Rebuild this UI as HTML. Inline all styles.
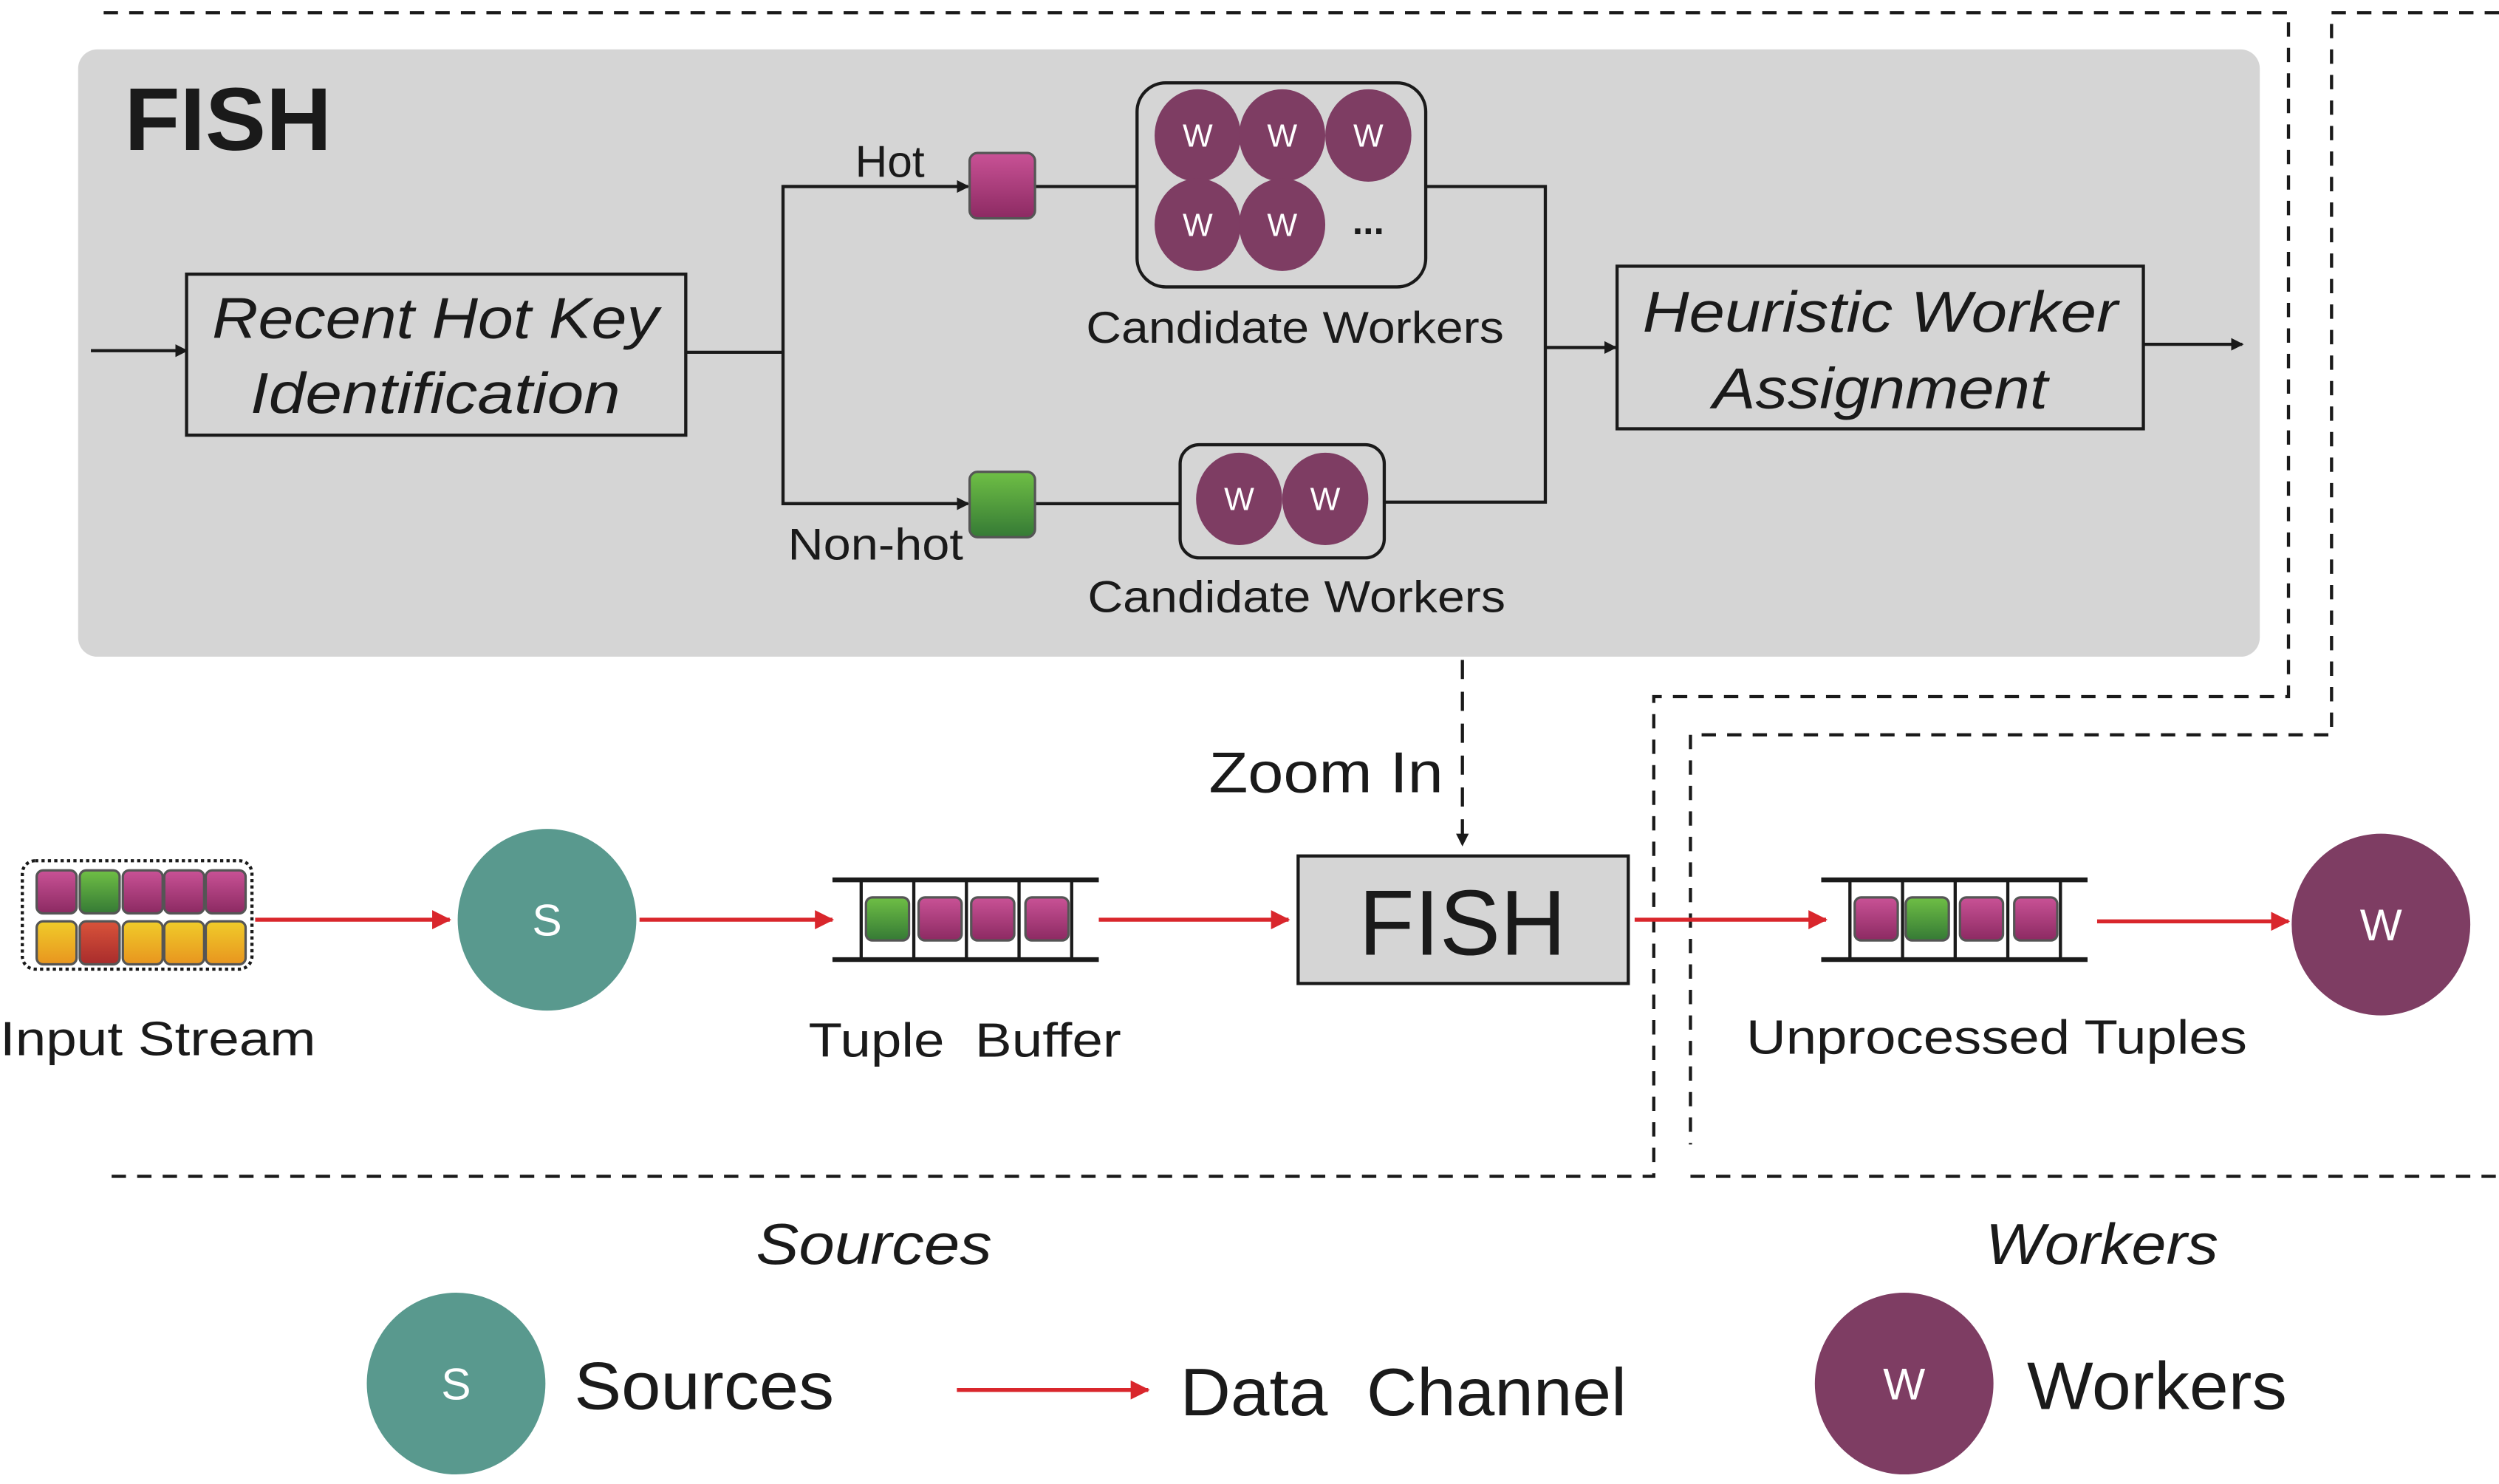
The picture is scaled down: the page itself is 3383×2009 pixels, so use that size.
<!DOCTYPE html>
<html><head><meta charset="utf-8"><style>
html,body{margin:0;padding:0;background:#fff;}
svg{display:block;}
text{font-family:"Liberation Sans",sans-serif;fill:#1a1a1a;}
</style></head><body>
<svg width="3383" height="2009" viewBox="0 0 1567 931" preserveAspectRatio="none" xmlns="http://www.w3.org/2000/svg">
<defs>
<linearGradient id="pk" x1="0" y1="0" x2="0" y2="1"><stop offset="0" stop-color="#c95296"/><stop offset="1" stop-color="#8c2a62"/></linearGradient>
<linearGradient id="gr" x1="0" y1="0" x2="0" y2="1"><stop offset="0" stop-color="#6fbf45"/><stop offset="1" stop-color="#357a35"/></linearGradient>
<linearGradient id="yl" x1="0" y1="0" x2="0" y2="1"><stop offset="0" stop-color="#f0cc2a"/><stop offset="1" stop-color="#e8951f"/></linearGradient>
<linearGradient id="rd" x1="0" y1="0" x2="0" y2="1"><stop offset="0" stop-color="#d9533a"/><stop offset="1" stop-color="#a82c2c"/></linearGradient>
<marker id="ab" markerWidth="8" markerHeight="8" refX="7" refY="4" orient="auto" markerUnits="userSpaceOnUse"><path d="M0,0 L8,4 L0,8 z" fill="#1a1a1a"/></marker>
<marker id="ar" markerWidth="12" markerHeight="12" refX="11" refY="6" orient="auto" markerUnits="userSpaceOnUse"><path d="M0,0 L12,6 L0,12 z" fill="#d9262c"/></marker>
</defs>

<!-- dashed frames -->
<g fill="none" stroke="#1a1a1a" stroke-width="2" stroke-dasharray="9,7">
<polyline points="65,8 1435,8 1435,437 1040,437 1037,437 1037,738 65,738"/>
<polyline points="1567,8 1462,8 1462,461 1060,461 1060,718"/>
<line x1="1060" y1="738" x2="1567" y2="738"/>
</g>

<!-- gray panel -->
<rect x="49" y="31" width="1368" height="381" rx="12" fill="#d5d5d5"/>
<text x="78" y="94" font-size="56" font-weight="bold" textLength="130" lengthAdjust="spacingAndGlyphs">FISH</text>

<g stroke="#1a1a1a" stroke-width="2" fill="none">
<line x1="57" y1="220" x2="117" y2="220" marker-end="url(#ab)"/>
<rect x="117" y="172" width="313" height="101"/>
<polyline points="430,221 491,221"/>
<polyline points="607,117 491,117 491,316 607,316"/>
<line x1="491" y1="117" x2="607" y2="117" marker-end="url(#ab)"/>
<line x1="491" y1="316" x2="607" y2="316" marker-end="url(#ab)"/>
<line x1="649" y1="117" x2="713" y2="117"/>
<rect x="713" y="52" width="181" height="128" rx="18"/>
<polyline points="894,117 969,117 969,315 868,315"/>
<line x1="969" y1="218" x2="1013" y2="218" marker-end="url(#ab)"/>
<line x1="649" y1="316" x2="740" y2="316"/>
<rect x="740" y="279" width="128" height="71" rx="12"/>
<rect x="1014" y="167" width="330" height="102"/>
<line x1="1344" y1="216" x2="1406" y2="216" marker-end="url(#ab)"/>
</g>
<rect x="608" y="96" width="41" height="41" rx="5" fill="url(#pk)" stroke="#555" stroke-width="1.5"/>
<rect x="608" y="296" width="41" height="41" rx="5" fill="url(#gr)" stroke="#555" stroke-width="1.5"/>

<g fill="#7e3d63">
<ellipse cx="751" cy="85" rx="27" ry="29"/><ellipse cx="804" cy="85" rx="27" ry="29"/><ellipse cx="858" cy="85" rx="27" ry="29"/>
<ellipse cx="751" cy="141" rx="27" ry="29"/><ellipse cx="804" cy="141" rx="27" ry="29"/>
<ellipse cx="777" cy="313" rx="27" ry="29"/><ellipse cx="831" cy="313" rx="27" ry="29"/>
</g>
<g font-size="20" text-anchor="middle" style="fill:#fff">
<text x="751" y="92" style="fill:#fff">W</text><text x="804" y="92" style="fill:#fff">W</text><text x="858" y="92" style="fill:#fff">W</text>
<text x="751" y="148" style="fill:#fff">W</text><text x="804" y="148" style="fill:#fff">W</text>
<text x="777" y="320" style="fill:#fff">W</text><text x="831" y="320" style="fill:#fff">W</text>
</g>
<text x="858" y="147" font-size="24" font-weight="bold" text-anchor="middle">...</text>

<text x="273" y="212" font-size="36" font-style="italic" text-anchor="middle" textLength="280" lengthAdjust="spacingAndGlyphs">Recent Hot Key</text>
<text x="273" y="259" font-size="36" font-style="italic" text-anchor="middle" textLength="232" lengthAdjust="spacingAndGlyphs">Identification</text>
<text x="1179" y="208" font-size="36" font-style="italic" text-anchor="middle" textLength="298" lengthAdjust="spacingAndGlyphs">Heuristic Worker</text>
<text x="1179" y="256" font-size="36" font-style="italic" text-anchor="middle" textLength="210" lengthAdjust="spacingAndGlyphs">Assignment</text>
<text x="558" y="111" font-size="28" text-anchor="middle">Hot</text>
<text x="549" y="351" font-size="28" text-anchor="middle" textLength="110" lengthAdjust="spacingAndGlyphs">Non-hot</text>
<text x="812" y="215" font-size="28" text-anchor="middle" textLength="262" lengthAdjust="spacingAndGlyphs">Candidate Workers</text>
<text x="813" y="384" font-size="28" text-anchor="middle" textLength="262" lengthAdjust="spacingAndGlyphs">Candidate Workers</text>

<!-- zoom in -->
<line x1="917" y1="414" x2="917" y2="530" stroke="#1a1a1a" stroke-width="2" stroke-dasharray="12,8" marker-end="url(#ab)"/>
<text x="905" y="497" font-size="36" text-anchor="end" textLength="147" lengthAdjust="spacingAndGlyphs">Zoom In</text>

<!-- input stream -->
<rect x="14" y="540" width="144" height="68" rx="8" fill="none" stroke="#1a1a1a" stroke-width="2" stroke-dasharray="2,2"/>
<g stroke="#555" stroke-width="1.5">
<rect x="23" y="546" width="25" height="27" rx="4" fill="url(#pk)"/><rect x="50" y="546" width="25" height="27" rx="4" fill="url(#gr)"/><rect x="77" y="546" width="25" height="27" rx="4" fill="url(#pk)"/><rect x="103" y="546" width="25" height="27" rx="4" fill="url(#pk)"/><rect x="129" y="546" width="25" height="27" rx="4" fill="url(#pk)"/>
<rect x="23" y="578" width="25" height="27" rx="4" fill="url(#yl)"/><rect x="50" y="578" width="25" height="27" rx="4" fill="url(#rd)"/><rect x="77" y="578" width="25" height="27" rx="4" fill="url(#yl)"/><rect x="103" y="578" width="25" height="27" rx="4" fill="url(#yl)"/><rect x="129" y="578" width="25" height="27" rx="4" fill="url(#yl)"/>
</g>
<text x="0" y="662" font-size="30" textLength="198" lengthAdjust="spacingAndGlyphs">Input Stream</text>

<g stroke="#d9262c" stroke-width="2.5">
<line x1="160" y1="577" x2="282" y2="577" marker-end="url(#ar)"/>
<line x1="401" y1="577" x2="522" y2="577" marker-end="url(#ar)"/>
<line x1="689" y1="577" x2="808" y2="577" marker-end="url(#ar)"/>
<line x1="1025" y1="577" x2="1145" y2="577" marker-end="url(#ar)"/>
<line x1="1315" y1="578" x2="1435" y2="578" marker-end="url(#ar)"/>
<line x1="600" y1="872" x2="720" y2="872" marker-end="url(#ar)"/>
</g>

<ellipse cx="343" cy="577" rx="56" ry="57" fill="#59998e"/>
<text x="343" y="587" font-size="28" text-anchor="middle" style="fill:#fff">S</text>

<!-- tuple buffer -->
<g stroke="#1a1a1a" stroke-width="2">
<line x1="522" y1="552" x2="689" y2="552" stroke-width="3"/><line x1="522" y1="602" x2="689" y2="602" stroke-width="3"/>
<line x1="540" y1="552" x2="540" y2="602"/><line x1="573" y1="552" x2="573" y2="602"/><line x1="606" y1="552" x2="606" y2="602"/><line x1="639" y1="552" x2="639" y2="602"/><line x1="672" y1="552" x2="672" y2="602"/>
<line x1="1142" y1="552" x2="1309" y2="552" stroke-width="3"/><line x1="1142" y1="602" x2="1309" y2="602" stroke-width="3"/>
<line x1="1160" y1="552" x2="1160" y2="602"/><line x1="1193" y1="552" x2="1193" y2="602"/><line x1="1226" y1="552" x2="1226" y2="602"/><line x1="1259" y1="552" x2="1259" y2="602"/><line x1="1292" y1="552" x2="1292" y2="602"/>
</g>
<g stroke="#555" stroke-width="1.5">
<rect x="543" y="563" width="27" height="27" rx="4" fill="url(#gr)"/><rect x="576" y="563" width="27" height="27" rx="4" fill="url(#pk)"/><rect x="609" y="563" width="27" height="27" rx="4" fill="url(#pk)"/><rect x="643" y="563" width="27" height="27" rx="4" fill="url(#pk)"/>
<rect x="1163" y="563" width="27" height="27" rx="4" fill="url(#pk)"/><rect x="1195" y="563" width="27" height="27" rx="4" fill="url(#gr)"/><rect x="1229" y="563" width="27" height="27" rx="4" fill="url(#pk)"/><rect x="1263" y="563" width="27" height="27" rx="4" fill="url(#pk)"/>
</g>
<text x="605" y="663" font-size="30" text-anchor="middle" textLength="196" lengthAdjust="spacingAndGlyphs" xml:space="preserve">Tuple  Buffer</text>
<text x="1252" y="661" font-size="30" text-anchor="middle" textLength="314" lengthAdjust="spacingAndGlyphs">Unprocessed Tuples</text>

<rect x="814" y="537" width="207" height="80" fill="#d5d5d5" stroke="#1a1a1a" stroke-width="2"/>
<text x="917" y="599" font-size="58" text-anchor="middle" textLength="130" lengthAdjust="spacingAndGlyphs">FISH</text>

<ellipse cx="1493" cy="580" rx="56" ry="57" fill="#7e3d63"/>
<text x="1493" y="590" font-size="28" text-anchor="middle" style="fill:#fff">W</text>

<!-- legend -->
<text x="548" y="793" font-size="36" font-style="italic" text-anchor="middle" textLength="148" lengthAdjust="spacingAndGlyphs">Sources</text>
<text x="1318" y="793" font-size="36" font-style="italic" text-anchor="middle" textLength="146" lengthAdjust="spacingAndGlyphs">Workers</text>
<ellipse cx="286" cy="868" rx="56" ry="57" fill="#59998e"/>
<text x="286" y="878" font-size="28" text-anchor="middle" style="fill:#fff">S</text>
<text x="360" y="884" font-size="42" textLength="163" lengthAdjust="spacingAndGlyphs">Sources</text>
<text x="740" y="888" font-size="42" textLength="280" lengthAdjust="spacingAndGlyphs" xml:space="preserve">Data  Channel</text>
<ellipse cx="1194" cy="868" rx="56" ry="57" fill="#7e3d63"/>
<text x="1194" y="878" font-size="28" text-anchor="middle" style="fill:#fff">W</text>
<text x="1271" y="884" font-size="42" textLength="163" lengthAdjust="spacingAndGlyphs">Workers</text>
</svg>
</body></html>
